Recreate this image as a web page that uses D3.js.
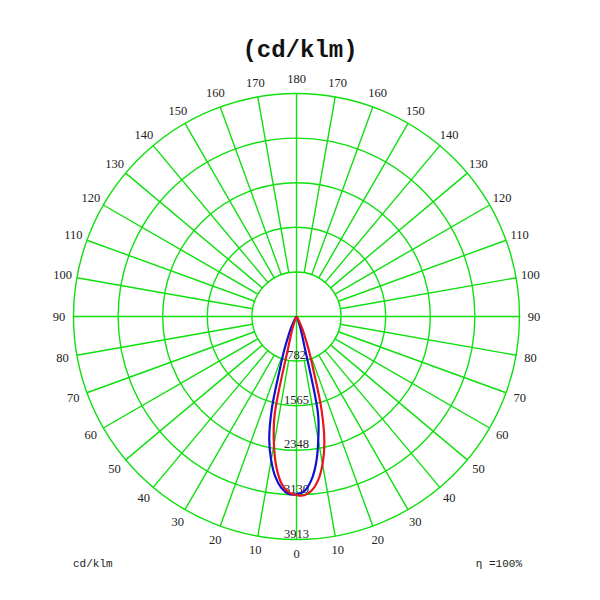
<!DOCTYPE html>
<html>
<head>
<meta charset="utf-8">
<script src="https://cdn.jsdelivr.net/npm/d3@7"></script>
<style>
  html, body { margin: 0; padding: 0; background: #fff; }
  svg { display: block; }
</style>
</head>
<body>
<svg id="chart" width="600" height="600"></svg>
<script>
// --- Data (cd/klm) ---
const gamma = [0, 2.5, 5, 7.5, 10, 12.5, 15, 17.5, 20, 22.5, 25, 30, 35, 40, 50, 60, 70, 80, 90];

// red curve: C0 drawn on the right, C180 on the left
const redC0 = [3135, 3140, 3065, 2900, 2630, 2260, 1700, 990, 632, 386, 246, 88, 26, 0, 0, 0, 0, 0, 0];
const redC180 = [3135, 3090, 2950, 2680, 2280, 1780, 540, 281, 140, 70, 35, 0, 0, 0, 0, 0, 0, 0, 0];
// blue curve: C90 on the right, C270 on the left
const blueC90 = [3120, 3070, 2900, 2610, 2200, 1740, 520, 281, 140, 70, 35, 0, 0, 0, 0, 0, 0, 0, 0];
const blueC270 = [3120, 3115, 3020, 2840, 2560, 2210, 1670, 975, 632, 386, 246, 88, 26, 0, 0, 0, 0, 0, 0];

const maxValue = 3913;
const ringLabels = ["782", "1565", "2348", "3130", "3913"];
const angleTicks = d3.range(0, 181, 10);

// --- Layout ---
const svg = d3.select("#chart");
const cx = 296.5, cy = 316.5, R = 223;
const green = "#0de00d";

const r = d3.scaleLinear().domain([0, maxValue]).range([0, R]);
const rad = (deg) => (deg * Math.PI) / 180;

const g = svg.append("g").attr("transform", `translate(${cx},${cy})`);

// rings
g.append("g")
  .selectAll("circle")
  .data(ringLabels)
  .join("circle")
  .attr("r", (d) => r(+d))
  .attr("fill", "none")
  .attr("stroke", green)
  .attr("stroke-width", 1.4);

// spokes every 10 deg, starting at the first ring (vertical / horizontal go through centre)
const inner = r(+ringLabels[0]);
g.append("g")
  .selectAll("line")
  .data(d3.range(0, 360, 10))
  .join("line")
  .attr("x1", (d) => (d % 90 === 0 ? 0 : inner * Math.sin(rad(d))))
  .attr("y1", (d) => (d % 90 === 0 ? 0 : inner * Math.cos(rad(d))))
  .attr("x2", (d) => R * Math.sin(rad(d)))
  .attr("y2", (d) => R * Math.cos(rad(d)))
  .attr("stroke", green)
  .attr("stroke-width", 1.4);

// angle labels on both sides
const Rl = R + 14.5;
const sideTicks = [];
angleTicks.forEach((a) => {
  sideTicks.push({ a, s: 1 });
  if (a !== 0 && a !== 180) sideTicks.push({ a, s: -1 });
});
g.append("g")
  .selectAll("text")
  .data(sideTicks)
  .join("text")
  .attr("x", (d) => d.s * Rl * Math.sin(rad(d.a)))
  .attr("y", (d) => Rl * Math.cos(rad(d.a)))
  .attr("text-anchor", "middle")
  .attr("dominant-baseline", "central")
  .attr("font-family", "Liberation Serif, serif")
  .attr("font-size", 12.5)
  .attr("fill", "#222")
  .text((d) => d.a);

// ring value labels along the downward axis
g.append("g")
  .selectAll("text")
  .data(ringLabels)
  .join("text")
  .attr("x", 0)
  .attr("y", (d) => r(+d) - 2)
  .attr("text-anchor", "middle")
  .attr("font-family", "Liberation Serif, serif")
  .attr("font-size", 12.5)
  .attr("fill", "#222")
  .text((d) => d);

// --- Intensity curves ---
// left half from 90 down to 0, right half from 0 up to 90
function curvePoints(left, right) {
  const pts = [];
  for (let i = gamma.length - 1; i >= 0; i--)
    pts.push([Math.PI + rad(gamma[i]), r(left[i])]);
  for (let i = 1; i < gamma.length; i++)
    pts.push([Math.PI - rad(gamma[i]), r(right[i])]);
  return pts;
}

const line = d3
  .lineRadial()
  .angle((d) => d[0])
  .radius((d) => d[1])
  .curve(d3.curveCatmullRom.alpha(0.5));

g.append("path")
  .attr("d", line(curvePoints(blueC270, blueC90)))
  .attr("fill", "none")
  .attr("stroke", "#1010d0")
  .attr("stroke-width", 2.2);

g.append("path")
  .attr("d", line(curvePoints(redC180, redC0)))
  .attr("fill", "none")
  .attr("stroke", "#e8141b")
  .attr("stroke-width", 2.2);

// --- Texts ---
svg.append("text")
  .attr("x", 300)
  .attr("y", 57)
  .attr("text-anchor", "middle")
  .attr("font-family", "Liberation Mono, monospace")
  .attr("font-weight", "bold")
  .attr("font-size", 24)
  .attr("fill", "#111")
  .text("(cd/klm)");

svg.append("text")
  .attr("x", 73)
  .attr("y", 567)
  .attr("font-family", "Liberation Mono, monospace")
  .attr("font-size", 11)
  .attr("fill", "#222")
  .text("cd/klm");

svg.append("text")
  .attr("x", 522)
  .attr("y", 567)
  .attr("text-anchor", "end")
  .attr("font-family", "Liberation Mono, monospace")
  .attr("font-size", 11)
  .attr("fill", "#222")
  .text("η =100%");
</script>
</body>
</html>
